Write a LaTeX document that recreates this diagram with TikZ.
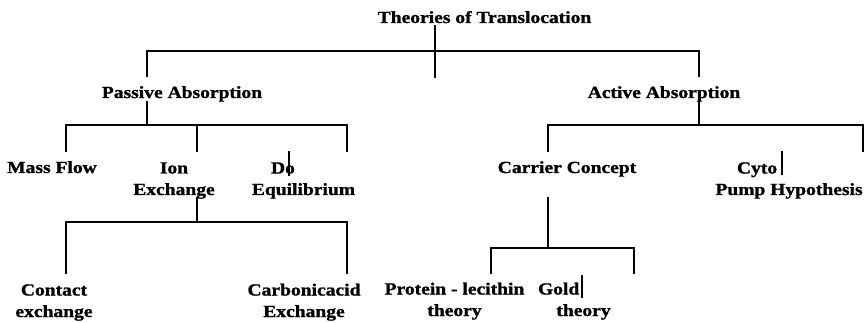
\documentclass[tikz,border=0pt]{standalone}
\usepackage{fontspec}
\newfontfamily\lbfont{Liberation Serif Bold}[FakeStretch=1.15, FakeBold=1.2]
\begin{document}
\begin{tikzpicture}[x=1pt,y=-1pt,
  lbl/.style={font=\fontsize{17}{21.5}\selectfont\lbfont, inner sep=0pt, anchor=base, align=center},
  conn/.style={line width=2.3pt, line cap=rect},
  tick/.style={line width=1.2pt}]
\useasboundingbox[fill=white] (0,0) rectangle (864,323);

% text nodes (anchor = baseline of last line)
\node[lbl] (root) at (484.5,23) {Theories of Translocation};
\node[lbl] (pa) at (182,98) {Passive Absorption};
\node[lbl] (aa) at (664,98) {Active Absorption};
\node[lbl] (mf) at (52,173) {Mass Flow};
\node[lbl] (ie) at (174,195) {Ion\\Exchange};
\node[lbl] (de) at (303.5,195) {\makebox[65pt][l]{Do}\\Equilibrium};
\node[lbl] (cc) at (567,173) {Carrier Concept};
\node[lbl] (cy) at (789,195) {\makebox[104pt][l]{Cyto}\\Pump Hypothesis};
\node[lbl] (ce) at (54,317) {Contact\\exchange};
\node[lbl] (ca) at (304,317) {Carbonicacid\\Exchange};
\node[lbl] (pl) at (454.5,316) {Protein - lecithin\\theory};
\node[lbl] (gt) at (583.5,316) {\makebox[91pt][l]{Gold}\\theory};

% connector points
\coordinate (root-t) at (435,26);
\coordinate (root-b) at (435,77);
\coordinate (root-j) at (435,51);
\coordinate (pa-top) at (147,76);
\coordinate (aa-top) at (699,76);
\coordinate (pa-t) at (147,102);
\coordinate (pa-j) at (147,125);
\coordinate (mf-e) at (66,151);
\coordinate (ie-e) at (197,151);
\coordinate (de-e) at (347,151);
\coordinate (aa-t) at (699,96);
\coordinate (aa-j) at (699,125);
\coordinate (cc-e) at (548,151);
\coordinate (cy-e) at (863,151);
\coordinate (ie-t) at (197,198);
\coordinate (ie-j) at (197,222);
\coordinate (ce-e) at (66,273);
\coordinate (ca-e) at (347,273);
\coordinate (cc-t) at (548,198);
\coordinate (cc-j) at (548,248);
\coordinate (pl-e) at (491,273);
\coordinate (gt-e) at (634,273);
\coordinate (de-k1) at (289,151);
\coordinate (de-k2) at (289,176);
\coordinate (cy-k1) at (782,151);
\coordinate (cy-k2) at (782,175);
\coordinate (gt-k1) at (582,275);
\coordinate (gt-k2) at (582,298);

% connectors
\draw[conn] (root-t) -- (root-b);
\draw[conn] (pa-top) |- (root-j) -| (aa-top);
\draw[conn] (pa-t) -- (pa-j);
\draw[conn] (mf-e) |- (pa-j) -| (de-e);
\draw[conn] (ie-e) -- (ie-e |- pa-j);
\draw[conn] (aa-t) -- (aa-j);
\draw[conn] (cc-e) |- (aa-j) -| (cy-e);
\draw[conn] (ie-t) -- (ie-j);
\draw[conn] (ce-e) |- (ie-j) -| (ca-e);
\draw[conn] (cc-t) -- (cc-j);
\draw[conn] (pl-e) |- (cc-j) -| (gt-e);
\draw[tick] (de-k1) -- (de-k2);
\draw[tick] (cy-k1) -- (cy-k2);
\draw[tick] (gt-k1) -- (gt-k2);
\end{tikzpicture}
\end{document}
